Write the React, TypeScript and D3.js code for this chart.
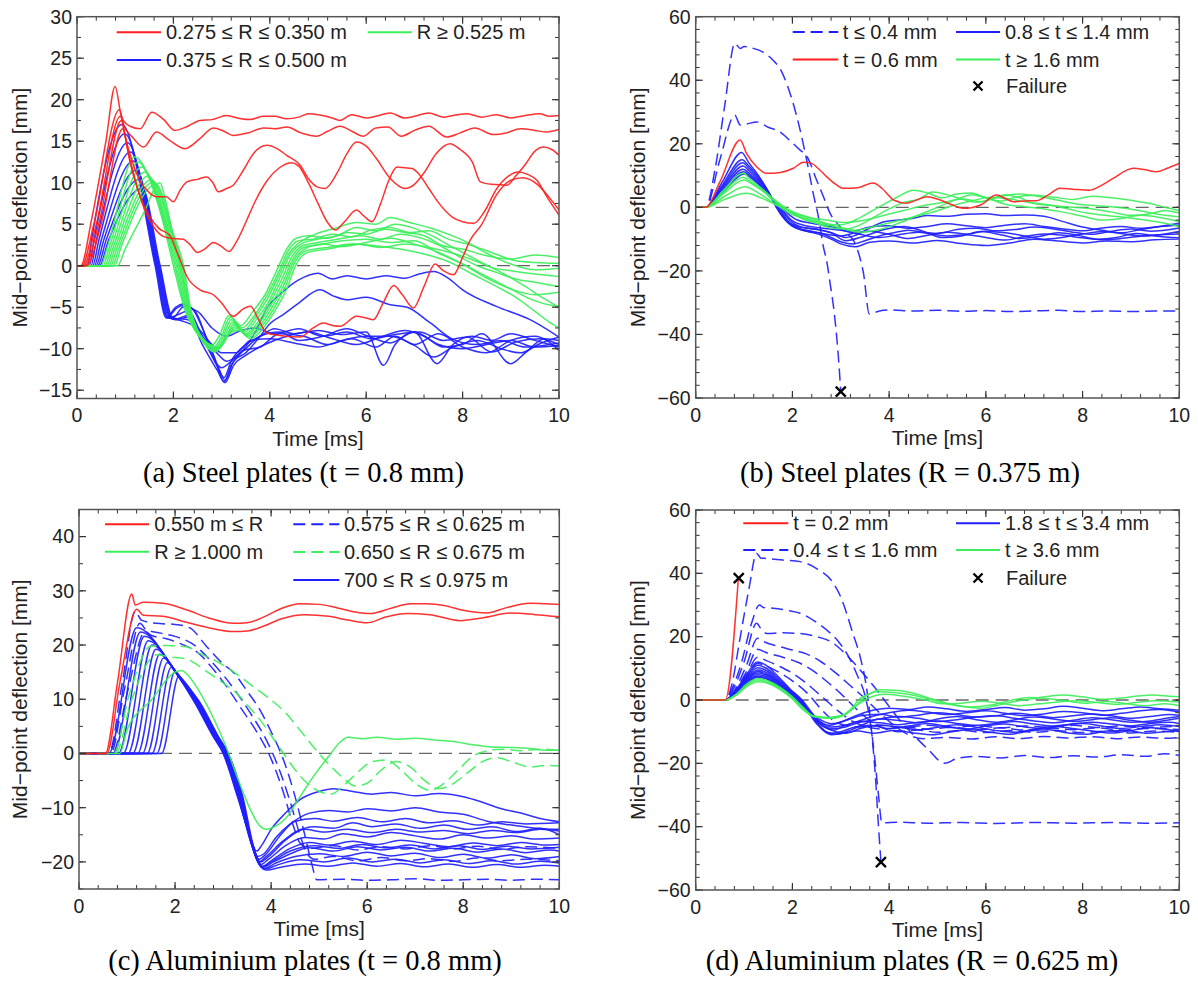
import React from 'react';
import * as d3 from 'd3';

const RED = '#ff1f1f';
const BLUE = '#2020ff';
const GREEN = '#3cef5a';
const DASH = '12,6';

// ---------- tick labels ----------
const xTicks = [0, 2, 4, 6, 8, 10];
const aYTicks = [-15, -10, -5, 0, 5, 10, 15, 20, 25, 30];
const bYTicks = [-60, -40, -20, 0, 20, 40, 60];
const cYTicks = [-20, -10, 0, 10, 20, 30, 40];
const dYTicks = [-60, -40, -20, 0, 20, 40, 60];

// ---------- panel (a): steel, t = 0.8 mm ---------- (flat t,v pairs)
const aRed: number[][] = [
  [0,0, 0.08,0, 0.3,5.5, 0.6,15, 0.79,21.6, 0.93,17.8, 1.1,16.8, 1.31,16.5, 1.55,18.5, 1.8,17.6, 2.03,16.3, 2.3,16.8, 2.55,17.5, 2.8,17.6, 3.1,18.1, 3.4,17.7, 3.6,17.6, 3.85,18.0, 4.1,18.0, 4.35,17.7, 4.6,17.9, 4.8,18.3, 5.0,18.2, 5.3,17.8, 5.45,17.5, 5.7,18.2, 6.0,17.8, 6.2,18.0, 6.5,18.4, 6.8,17.8, 7.0,18.0, 7.3,18.4, 7.6,17.9, 7.8,18.1, 8.1,18.3, 8.4,17.9, 8.7,18.2, 9.0,17.8, 9.3,18.1, 9.6,18.3, 9.8,18.0, 10,18.1],
  [0,0, 0.1,0, 0.35,5, 0.88,18.8, 0.98,16.8, 1.15,15.5, 1.38,14.3, 1.65,16.1, 1.9,15.2, 2.24,14.1, 2.55,15.3, 2.83,16.6, 3.05,16.2, 3.24,15.7, 3.55,16.0, 3.87,16.6, 4.1,16.5, 4.35,16.7, 4.65,16.0, 4.97,15.6, 5.2,16.2, 5.46,16.8, 5.7,16.2, 5.94,15.6, 6.2,16.6, 6.45,16.7, 6.73,15.6, 7.0,16.3, 7.3,16.8, 7.67,15.5, 7.95,16.0, 8.25,16.6, 8.64,15.8, 8.9,16.0, 9.2,16.5, 9.5,16.3, 9.75,16.1, 10,16.4],
  [0,0, 0.13,0, 0.4,5, 0.9,18, 1.0,15.5, 1.15,12.5, 1.3,10.3, 1.5,8.8, 1.65,8.3, 1.85,8.3, 2.0,7.7, 2.14,9.1, 2.28,10.1, 2.5,10.4, 2.69,10.7, 2.82,10, 2.93,8.9, 3.1,9.3, 3.24,9.7, 3.45,11.5, 3.66,13.5, 3.94,14.5, 4.15,14.1, 4.35,13.3, 4.63,12.1, 4.8,10.5, 4.98,9.5, 5.15,9.3, 5.4,11.2, 5.6,13.5, 5.8,14.9, 6.0,14.4, 6.2,13.0, 6.5,10.5, 6.8,9.3, 7.0,9.8, 7.2,11.2, 7.45,13.5, 7.74,14.7, 7.95,14.0, 8.2,12.5, 8.37,10.1, 8.6,9.8, 8.92,9.7, 9.1,10.8, 9.3,12.2, 9.5,13.8, 9.68,14.3, 9.85,14.0, 10,13.3],
  [0,0, 0.16,0, 0.45,5, 0.92,17.5, 1.05,14, 1.2,10.5, 1.4,6.8, 1.6,4.6, 1.8,3.5, 1.95,3.3, 2.2,3.2, 2.35,2.5, 2.5,1.6, 2.65,2.0, 2.83,2.8, 3.0,2.3, 3.15,1.7, 3.3,2.8, 3.5,5.2, 3.7,7.8, 3.95,10.3, 4.2,11.8, 4.45,12.4, 4.6,12.0, 4.8,10.0, 5.0,7.5, 5.2,5.2, 5.36,4.3, 5.55,5.3, 5.8,6.7, 5.95,6.0, 6.12,5.3, 6.3,7.5, 6.45,10, 6.64,11.9, 6.8,11.8, 6.95,11.7, 7.1,11.0, 7.3,9.3, 7.5,7.6, 7.8,5.8, 8.0,5.3, 8.23,5.1, 8.45,6.5, 8.71,9.3, 8.95,10.8, 9.15,11.3, 9.35,11.0, 9.54,10.3, 9.75,8.3, 10,6.1],
  [0,0, 0.2,0, 0.5,5, 0.95,16.5, 1.1,12.5, 1.3,8.5, 1.5,6, 1.7,4.5, 1.93,3.6, 2.05,2.0, 2.14,0.7, 2.28,-1.3, 2.55,-2.9, 2.83,-3.5, 3.0,-4.5, 3.24,-6.1, 3.45,-5.2, 3.6,-4.9, 3.75,-6.3, 3.94,-8.1, 4.21,-8.4, 4.63,-8.6, 4.9,-7.5, 5.11,-6.9, 5.3,-7.2, 5.46,-7.3, 5.8,-6.1, 6.0,-6.3, 6.15,-6.5, 6.35,-4.5, 6.57,-2.4, 6.75,-3.5, 6.98,-5.1, 7.2,-2.5, 7.43,0.2, 7.6,-0.6, 7.81,-1.1, 8.0,1.0, 8.16,3.1, 8.4,5.0, 8.7,8.5, 9.0,10.3, 9.25,10.6, 9.55,9.8, 9.8,8.2, 10,6.7],
];

const aBlue: number[][] = [
  [0,0, 0.22,0, 0.30,3, 0.93,17.0, 1.62,0, 1.85,-6.3, 2.05,-5.0, 2.2,-4.6, 2.4,-5.2, 2.6,-7.5, 2.85,-11, 3.05,-14, 3.2,-12, 3.4,-10.5, 3.7,-8, 3.95,-5, 4.2,-3.5, 4.6,-1.7, 5.0,-0.9, 5.3,-1.6, 5.6,-1.2, 6.0,-1.6, 6.4,-1.2, 6.8,-1.5, 7.1,-1.0, 7.4,-0.7, 7.7,-1.5, 8.0,-2.9, 8.7,-4.9, 9.4,-6.5, 10,-8.6],
  [0,0, 0.255,0, 0.35,3, 0.99,15.9, 1.635,0, 1.87,-6.3, 2.05,-5.2, 2.2,-4.8, 2.45,-5.5, 2.7,-9, 2.95,-12.5, 3.07,-13.8, 3.25,-11.5, 3.5,-10.5, 3.8,-8.5, 4.0,-7, 4.3,-5.8, 4.6,-4.5, 5.04,-2.9, 5.3,-3.6, 5.6,-4.1, 6.0,-3.8, 6.5,-4.7, 6.85,-5.0, 7.33,-6.9, 7.81,-8.9, 8.3,-9.5, 8.8,-9.0, 9.3,-9.8, 10,-9.3],
  [0,0, 0.29,0, 0.40,3, 1.05,14.8, 1.65,0, 1.89,-6.3, 2.05,-6.0, 2.3,-5.5, 2.6,-8.5, 2.9,-12, 3.05,-13.5, 3.2,-11.5, 3.5,-9.5, 3.8,-8.5, 4.1,-7.6, 4.5,-8.2, 5.0,-7.8, 5.5,-8.3, 6.0,-8.0, 6.36,-12, 6.6,-9.5, 7.0,-8, 7.47,-11.8, 7.8,-9.5, 8.2,-8.5, 8.6,-9.0, 9.0,-8.2, 9.5,-9.0, 10,-9.8],
  [0,0, 0.325,0, 0.45,3, 1.11,13.7, 1.665,0, 1.91,-6.3, 2.05,-6.4, 2.3,-6.0, 2.6,-9.5, 2.9,-12.5, 3.07,-14.1, 3.25,-12, 3.5,-10.8, 3.9,-9.5, 4.3,-8.6, 4.8,-8.0, 5.3,-8.8, 5.8,-9.5, 6.3,-8.6, 6.8,-7.8, 7.2,-8.5, 7.6,-9.8, 8.0,-9.5, 8.4,-8.2, 9.0,-11.8, 9.3,-10.5, 9.7,-8.8, 10,-9.0],
  [0,0, 0.36,0, 0.50,3, 1.17,12.6, 1.68,0, 1.93,-6.3, 2.05,-6.5, 2.3,-6.2, 2.7,-9.8, 3.0,-12.3, 3.2,-11.5, 3.45,-10.2, 3.8,-9.8, 4.2,-8.2, 4.7,-8.5, 5.2,-9.5, 5.7,-8.8, 6.2,-9.8, 6.6,-8.5, 7.0,-9.5, 7.5,-8.2, 8.0,-9.8, 8.5,-10.5, 9.0,-9.0, 9.5,-8.5, 10,-10.2],
  [0,0, 0.395,0, 0.55,3, 1.23,11.5, 1.695,0, 1.95,-6.3, 2.1,-6.4, 2.3,-6.5, 2.6,-8.5, 2.9,-10.5, 3.1,-11.5, 3.4,-10.5, 3.8,-8.5, 4.2,-8.0, 4.6,-9.0, 5.1,-8.5, 5.6,-7.6, 6.0,-8.4, 6.5,-9.3, 7.0,-8.0, 7.5,-9.5, 8.0,-10.0, 8.5,-9.5, 9.0,-9.0, 9.5,-9.8, 10,-9.6],
  [0,0, 0.43,0, 0.60,3, 1.29,10.4, 1.71,0, 1.97,-6.3, 2.15,-6.6, 2.5,-7.5, 2.8,-9.5, 3.0,-10.5, 3.3,-10.5, 3.6,-9, 4.0,-8.8, 4.5,-9.3, 5.0,-9.8, 5.5,-9.0, 6.0,-8.5, 6.5,-8.5, 7.0,-9.6, 7.4,-11.0, 7.8,-9.8, 8.3,-9.0, 8.8,-10.0, 9.2,-10.5, 9.6,-9.4, 10,-8.6],
  [0,0, 0.465,0, 0.65,3, 1.35,9.3, 1.725,0, 1.99,-6.3, 2.2,-5.0, 2.5,-5.5, 2.8,-7.5, 3.1,-8.5, 3.4,-7.8, 3.7,-7.5, 4.1,-8.2, 4.6,-7.6, 5.1,-8.5, 5.6,-8.0, 6.1,-8.8, 6.6,-8.3, 7.1,-8.0, 7.6,-9.0, 8.1,-8.6, 8.6,-10.4, 9.1,-9.2, 9.6,-8.8, 10,-9.5],
];

const aGreen: number[][] = [
  [0,0, 0.50,0, 0.62,2, 1.2,13.1, 1.5,10.5, 1.75,6, 2.0,0, 2.25,-5.5, 2.5,-8, 2.75,-9.8, 2.95,-8.5, 3.15,-6, 3.4,-7.2, 3.65,-5.5, 3.9,-3.5, 4.15,-0.5, 4.35,2.0, 4.55,3.3, 4.8,3.6, 5.2,3.3, 5.6,4.0, 6.0,3.8, 6.4,4.4, 6.8,4.0, 7.2,3.6, 7.6,2.4, 8.0,2.0, 8.5,1.2, 9.0,0.8, 9.5,1.3, 10,1.0],
  [0,0, 0.54,0, 0.66,2, 1.27,12.5, 1.52,10.3, 1.78,5.8, 2.03,0, 2.28,-5.8, 2.52,-8.3, 2.78,-10.1, 2.98,-8.8, 3.18,-6.2, 3.42,-7.5, 3.68,-6.0, 3.92,-3.8, 4.18,-0.8, 4.38,1.8, 4.6,3.0, 4.9,3.2, 5.3,3.8, 5.7,3.5, 6.1,4.3, 6.5,4.6, 6.9,4.0, 7.3,4.2, 7.7,3.2, 8.1,2.6, 8.6,1.6, 9.1,0.6, 9.5,0.4, 10,0.3],
  [0,0, 0.58,0, 0.70,2, 1.34,11.9, 1.55,10.2, 1.8,5.6, 2.06,0, 2.3,-6.0, 2.55,-8.6, 2.8,-10.2, 3.0,-9.0, 3.2,-6.5, 3.45,-7.8, 3.7,-6.2, 3.95,-4.0, 4.2,-1.0, 4.4,1.5, 4.62,2.8, 4.95,3.8, 5.35,4.5, 5.8,5.2, 6.2,5.0, 6.5,5.8, 6.9,5.2, 7.3,4.6, 7.7,3.8, 8.1,2.8, 8.5,1.5, 9.0,0.2, 9.5,-0.5, 10,-0.3],
  [0,0, 0.62,0, 0.74,2, 1.41,11.3, 1.58,10.0, 1.83,5.4, 2.09,0, 2.32,-6.1, 2.58,-8.8, 2.82,-10.3, 3.02,-9.2, 3.22,-6.8, 3.48,-8.0, 3.72,-6.5, 3.98,-4.3, 4.22,-1.3, 4.42,1.3, 4.65,2.6, 5.0,3.2, 5.4,3.6, 5.8,4.6, 6.2,4.2, 6.6,5.0, 7.0,4.5, 7.4,3.5, 7.8,2.2, 8.2,1.0, 8.6,-0.2, 9.0,-0.6, 9.5,-1.0, 10,-1.3],
  [0,0, 0.66,0, 0.78,2, 1.48,10.8, 1.61,9.8, 1.86,5.2, 2.12,0, 2.34,-6.2, 2.6,-9.0, 2.85,-10.4, 3.05,-9.3, 3.25,-7.0, 3.5,-8.2, 3.75,-6.8, 4.0,-4.5, 4.25,-1.6, 4.45,1.0, 4.68,2.4, 5.0,2.8, 5.4,3.2, 5.9,3.6, 6.3,3.2, 6.7,3.8, 7.1,3.4, 7.5,2.5, 7.9,1.2, 8.3,0.0, 8.7,-0.8, 9.1,-1.6, 9.5,-2.0, 10,-2.5],
  [0,0, 0.70,0, 0.82,2, 1.55,10.4, 1.65,9.6, 1.9,5.0, 2.15,0, 2.36,-6.3, 2.62,-9.0, 2.87,-10.2, 3.07,-9.0, 3.27,-7.2, 3.52,-8.3, 3.77,-7.0, 4.02,-4.8, 4.27,-2.0, 4.48,0.8, 4.7,2.2, 5.0,2.5, 5.5,3.0, 6.0,3.2, 6.5,2.8, 7.0,3.0, 7.5,1.5, 8.0,0.2, 8.5,-1.5, 9.0,-2.8, 9.5,-3.5, 10,-3.2],
  [0,0, 0.74,0, 0.86,2, 1.6,10.1, 1.7,9.2, 1.93,4.8, 2.18,0, 2.38,-6.4, 2.65,-9.1, 2.9,-10.0, 3.1,-8.6, 3.3,-7.4, 3.55,-8.4, 3.8,-7.2, 4.05,-5.0, 4.3,-2.2, 4.5,0.6, 4.72,2.0, 5.1,2.6, 5.5,2.3, 6.0,2.8, 6.5,3.3, 7.0,2.6, 7.5,1.6, 8.0,0.2, 8.5,-1.3, 9.0,-2.8, 9.4,-4.0, 9.7,-4.6, 10,-4.9],
  [0,0, 0.78,0, 0.90,2, 1.65,9.8, 1.75,8.8, 1.96,4.5, 2.21,0, 2.4,-6.5, 2.68,-9.2, 2.92,-9.8, 3.12,-8.4, 3.32,-7.6, 3.57,-8.6, 3.82,-7.4, 4.08,-5.2, 4.32,-2.5, 4.52,0.4, 4.75,1.8, 5.2,2.2, 5.7,2.6, 6.2,2.4, 6.7,2.0, 7.2,1.4, 7.7,0.5, 8.2,-1.0, 8.7,-2.5, 9.1,-3.8, 9.5,-5.5, 9.8,-6.8, 10,-7.5],
  [0,0, 0.84,0, 1.0,2, 1.38,6.3, 1.72,10.0, 1.85,7.5, 2.0,3.5, 2.2,-1.5, 2.42,-6.5, 2.7,-9.3, 2.95,-9.9, 3.15,-8.2, 3.35,-7.8, 3.6,-8.8, 3.85,-7.6, 4.1,-5.5, 4.35,-2.8, 4.55,0.2, 4.78,1.6, 5.2,2.0, 5.8,2.6, 6.3,2.2, 6.8,2.6, 7.3,2.2, 7.8,1.5, 8.3,0.5, 8.8,-0.8, 9.3,-2.5, 9.7,-4.0, 10,-5.0],
];

// ---------- panel (b): steel, R = 0.375 m ----------
const bDash: number[][] = [
  [0,0, 0.21,0, 0.4,12, 0.6,32, 0.81,51.6, 0.92,50.0, 1.0,50.6, 1.2,50.0, 1.4,48.8, 1.6,46.3, 1.75,43.5, 1.88,39, 2.0,33.5, 2.16,24.3, 2.3,14.5, 2.43,4.4, 2.55,-4, 2.64,-12.4, 2.71,-17, 2.78,-24, 2.85,-31.3, 2.95,-47, 3.0,-58],
  [0,0, 0.21,0, 0.5,15, 0.81,29, 0.92,25.9, 1.05,26.2, 1.26,26.9, 1.5,25.2, 1.74,23.8, 1.95,21.0, 2.16,18.0, 2.3,16.0, 2.5,8.6, 2.65,3.0, 2.78,-1.9, 2.95,-5.5, 3.12,-8.2, 3.26,-10.3, 3.38,-15, 3.47,-20.8, 3.59,-33.6, 3.8,-32.6, 4.02,-32.3, 4.5,-32.6, 5.0,-32.4, 5.5,-32.7, 6.0,-32.5, 6.5,-32.8, 7.0,-32.6, 7.5,-32.4, 8.0,-32.8, 8.5,-32.6, 9.0,-32.8, 9.5,-32.6, 10,-32.6],
];
const bRed: number[][] = [
  [0,0, 0.21,0, 0.5,8, 0.92,21.2, 1.05,17, 1.26,12.8, 1.47,10.7, 1.75,11.0, 2.02,12.3, 2.23,14.2, 2.37,14.0, 2.55,12, 2.71,9.6, 2.9,7.2, 3.05,6.0, 3.35,6.2, 3.67,7.7, 3.85,6, 4.02,3.3, 4.09,2.3, 4.36,1.3, 4.55,2.2, 4.78,3.3, 5.0,2.6, 5.3,0.8, 5.53,-0.3, 5.7,-0.1, 5.9,0.8, 6.22,3.9, 6.4,2.8, 6.57,1.8, 6.8,2.0, 7.05,2.1, 7.3,4.0, 7.53,6.0, 7.8,5.7, 8.15,5.4, 8.4,7, 8.63,9.1, 9.05,12.3, 9.3,11.8, 9.53,11.2, 9.75,12.3, 10,13.8],
];
const bBlue: number[][] = [
  [0,0, 0.21,0, 0.55,8, 0.95,17.3, 1.1,14, 1.3,10, 1.5,5, 1.65,0.5, 1.8,-3, 1.95,-5, 2.1,-6, 2.3,-6.5, 2.5,-6.8, 2.7,-7.5, 2.9,-8.5, 3.1,-9.5, 3.3,-8.8, 3.6,-6.5, 3.9,-4.5, 4.2,-4, 4.5,-3.4, 4.8,-2.6, 5.2,-2.8, 5.6,-2.2, 6.0,-2.0, 6.4,-2.6, 6.8,-2.4, 7.2,-2.8, 7.6,-4.5, 8.0,-6.2, 8.4,-7.2, 8.8,-8.0, 9.2,-7.0, 9.6,-6.0, 10,-5.0],
  [0,0, 0.21,0, 0.55,7, 0.96,15.0, 1.1,13, 1.3,9.5, 1.5,5, 1.68,0, 1.85,-4, 2.0,-6, 2.2,-7.2, 2.4,-7.8, 2.6,-8.2, 2.8,-9.5, 3.0,-10.8, 3.25,-11.5, 3.5,-10.5, 3.8,-9.0, 4.1,-8.0, 4.4,-7.2, 4.8,-8.2, 5.2,-9.0, 5.6,-8.6, 6.0,-9.5, 6.4,-10.3, 6.8,-9.2, 7.2,-8.4, 7.6,-8.8, 8.0,-9.6, 8.5,-10.2, 9.0,-9.4, 9.5,-8.7, 10,-8.4],
  [0,0, 0.21,0, 0.55,6.5, 0.97,14.0, 1.12,12, 1.3,9, 1.5,4.8, 1.7,0, 1.9,-4.5, 2.1,-6.5, 2.3,-7.5, 2.55,-8.5, 2.8,-10.0, 3.0,-11.5, 3.3,-12.4, 3.6,-11.0, 4.0,-10.6, 4.5,-11.2, 5.0,-10.4, 5.5,-11.4, 6.0,-12.0, 6.5,-11.2, 7.0,-10.0, 7.5,-10.6, 8.0,-11.2, 8.5,-10.6, 9.0,-10.8, 9.5,-10.2, 10,-10.0],
  [0,0, 0.21,0, 0.55,6, 0.98,13.0, 1.12,11.2, 1.3,8.5, 1.5,4.5, 1.72,0, 1.92,-4.5, 2.1,-6.5, 2.4,-7.5, 2.7,-8.5, 3.0,-9.0, 3.3,-8.0, 3.6,-7.5, 4.0,-8.5, 4.4,-9.8, 4.8,-8.8, 5.2,-7.8, 5.6,-8.4, 6.0,-7.5, 6.4,-8.0, 6.8,-9.0, 7.2,-10.0, 7.6,-9.4, 8.0,-8.4, 8.4,-7.6, 8.8,-8.2, 9.2,-9.0, 9.6,-8.6, 10,-7.6],
  [0,0, 0.21,0, 0.55,5.5, 0.98,12.0, 1.12,10.5, 1.3,8, 1.5,4.2, 1.74,0, 1.95,-4.2, 2.15,-6.0, 2.5,-7.0, 2.8,-8, 3.1,-10.5, 3.5,-9, 3.9,-7, 4.3,-6, 4.7,-7.5, 5.1,-9.5, 5.5,-9, 5.9,-7.6, 6.3,-8.6, 6.7,-9.8, 7.1,-9.2, 7.5,-8.0, 7.9,-8.8, 8.3,-10, 8.7,-9.5, 9.1,-8.2, 9.5,-9.0, 10,-9.6],
  [0,0, 0.21,0, 0.55,5, 0.99,11.2, 1.12,10, 1.3,7.6, 1.5,4, 1.76,0, 1.98,-4.0, 2.2,-5.5, 2.6,-6.5, 3.0,-7.2, 3.4,-8.5, 3.8,-9.5, 4.2,-8.6, 4.6,-7.8, 5.0,-8.2, 5.4,-7.0, 5.8,-6.6, 6.2,-7.4, 6.6,-7.0, 7.0,-6.2, 7.4,-6.8, 7.8,-7.8, 8.2,-8.5, 8.6,-7.5, 9.0,-6.8, 9.4,-7.5, 10,-6.5],
  [0,0, 0.21,0, 0.55,4.6, 1.0,10.5, 1.12,9.5, 1.3,7.2, 1.5,3.8, 1.78,0, 1.95,-2.5, 2.1,-4, 2.4,-5, 2.8,-6, 3.2,-7.6, 3.6,-6.2, 4.0,-5.8, 4.4,-6.6, 4.8,-6.0, 5.2,-5.2, 5.6,-5.8, 6.0,-6.4, 6.4,-5.6, 6.8,-5.2, 7.2,-6.0, 7.6,-6.8, 8.0,-7.4, 8.4,-6.5, 8.8,-6.0, 9.2,-6.6, 9.6,-6.0, 10,-5.6],
];
const bGreen: number[][] = [
  [0,0, 0.21,0, 0.55,5, 0.98,10.7, 1.15,8.5, 1.4,5.5, 1.65,2.0, 1.85,-0.5, 2.1,-2.5, 2.4,-4.0, 2.7,-5.2, 3.0,-5.5, 3.3,-4.0, 3.6,-1.5, 3.9,1.0, 4.2,3.5, 4.5,5.4, 4.8,4.5, 5.1,3.0, 5.4,4.2, 5.7,4.5, 6.0,3.0, 6.3,2.0, 6.6,3.2, 7.0,3.8, 7.4,3.2, 7.8,2.5, 8.2,3.5, 8.6,3.0, 9.0,2.2, 9.4,1.2, 9.7,0.0, 10,-1.0],
  [0,0, 0.21,0, 0.55,4.5, 0.98,9.5, 1.15,7.8, 1.4,5.0, 1.7,1.0, 1.95,-1.5, 2.2,-3.5, 2.5,-5.0, 2.8,-6.5, 3.1,-6.8, 3.4,-5.5, 3.7,-3.0, 4.0,-0.5, 4.3,1.5, 4.6,2.5, 4.9,4.8, 5.2,4.0, 5.5,2.6, 5.8,1.6, 6.1,2.6, 6.4,4.0, 6.7,3.0, 7.0,1.2, 7.4,0.5, 7.8,0.0, 8.2,-0.5, 8.6,-1.5, 9.0,-2.5, 9.4,-2.0, 9.7,-1.0, 10,-1.8],
  [0,0, 0.21,0, 0.55,4, 1.0,8.6, 1.2,7, 1.45,4.5, 1.75,1.0, 1.95,-1.0, 2.2,-2.5, 2.6,-4.5, 3.0,-6.5, 3.4,-7.8, 3.8,-7.0, 4.2,-5.0, 4.6,-2.5, 5.0,0, 5.4,2.5, 5.7,4.0, 6.0,3.0, 6.4,1.0, 6.8,0.2, 7.2,-0.5, 7.6,-1.5, 8.0,-2.8, 8.4,-4.0, 8.8,-3.5, 9.2,-2.5, 9.6,-3.2, 10,-4.5],
  [0,0, 0.21,0, 0.6,3.5, 1.02,6.5, 1.3,4.5, 1.6,1.5, 1.9,-1.5, 2.2,-3.5, 2.5,-5.0, 2.9,-6.0, 3.3,-7.2, 3.7,-6.0, 4.1,-4.5, 4.5,-3.0, 4.9,-1.5, 5.3,0.5, 5.7,2.0, 6.1,3.2, 6.5,2.6, 6.9,1.5, 7.3,0.8, 7.7,-0.5, 8.1,-1.8, 8.5,-2.6, 8.9,-3.2, 9.3,-4.0, 9.7,-5.0, 10,-6.0],
  [0,0, 0.21,0, 0.6,2.5, 1.05,4.4, 1.35,3.0, 1.7,0.5, 2.0,-1.5, 2.3,-3.0, 2.7,-4.0, 3.1,-4.8, 3.5,-4.0, 3.9,-2.5, 4.3,-1.0, 4.7,0.5, 5.1,1.5, 5.5,2.6, 5.9,1.8, 6.3,3.4, 6.7,4.2, 7.1,3.4, 7.5,2.2, 7.9,1.0, 8.3,0.5, 8.7,0.0, 9.1,-0.8, 9.5,-2.0, 10,-3.0],
];
const bFail: number[][] = [[3.0, -58]];

// ---------- panel (c): aluminium, t = 0.8 mm ----------
const cRed: number[][] = [
  [0,0, 0.55,0, 0.8,13, 1.1,29.4, 1.17,27.4, 1.34,27.9, 1.75,27.7, 2.24,26.5, 2.7,25, 3.21,24.0, 3.5,24.1, 3.85,25.2, 4.2,26.7, 4.6,27.6, 5.0,27.5, 5.4,26.8, 5.75,26.1, 6.06,25.8, 6.5,26.8, 6.9,27.6, 7.25,27.6, 7.6,27.3, 8.0,26.4, 8.49,25.9, 8.9,26.9, 9.39,27.7, 9.7,27.6, 10,27.5],
  [0,0, 0.58,0, 0.85,13, 1.2,26.6, 1.34,25.5, 1.75,25.3, 2.24,24.2, 2.7,23.2, 3.21,22.5, 3.5,22.6, 3.85,23.5, 4.2,24.8, 4.7,25.6, 5.2,25.3, 5.6,24.6, 5.99,24.1, 6.4,25.2, 6.83,25.8, 7.3,25.6, 7.93,24.5, 8.4,25.0, 9.0,25.9, 9.5,25.6, 10,25.2],
];
const cDashBlue: number[][] = [
  [0,0, 0.62,0, 0.9,13, 1.17,26.2, 1.3,24.6, 1.6,24.0, 2.0,23.8, 2.3,23.2, 2.66,19.7, 3.0,16.5, 3.21,15.0, 3.5,11.5, 3.77,8.0, 4.0,4.0, 4.25,-1, 4.5,-8, 4.7,-15, 4.85,-20.5, 4.95,-23.3, 5.5,-23.2, 6.0,-23.4, 6.5,-23.3, 7.0,-23.1, 7.5,-23.4, 8.0,-23.3, 8.5,-23.2, 9.0,-23.4, 9.5,-23.2, 10,-23.3],
  [0,0, 0.66,0, 0.95,12, 1.27,24.0, 1.4,22.8, 1.7,22.2, 2.0,21.6, 2.4,20.0, 2.7,17.5, 3.0,14.5, 3.3,11.0, 3.6,7.0, 3.9,2.5, 4.15,-2.5, 4.4,-9, 4.6,-15, 4.75,-18.5, 4.9,-19.5, 5.3,-19.0, 5.8,-19.8, 6.3,-19.2, 6.8,-19.8, 7.3,-19.4, 7.8,-19.9, 8.3,-19.3, 8.8,-19.8, 9.3,-19.5, 10,-19.8],
  [0,0, 0.7,0, 1.0,11, 1.38,22.5, 1.5,21.8, 1.8,21.2, 2.1,20.3, 2.5,18.4, 2.8,15.5, 3.1,12.0, 3.4,8.0, 3.7,4.0, 4.0,-1.0, 4.25,-7, 4.45,-13, 4.6,-16.5, 4.8,-17.5, 5.3,-17.0, 5.8,-17.8, 6.3,-17.2, 6.8,-17.6, 7.3,-17.0, 7.8,-17.6, 8.3,-17.1, 8.8,-17.7, 9.3,-17.2, 10,-17.5],
];
const cDashGreen: number[][] = [
  [0,0, 0.72,0, 1.05,11, 1.5,19.8, 1.8,19.9, 2.24,19.7, 2.5,18.5, 2.8,17.3, 3.21,15.1, 3.6,12.5, 3.91,10.5, 4.3,7.5, 4.6,4.3, 4.9,1.0, 5.2,-2.0, 5.5,-4.5, 5.75,-6.0, 6.0,-5.5, 6.3,-3.0, 6.6,-1.5, 6.9,-2.5, 7.2,-5.0, 7.5,-6.5, 7.8,-5.5, 8.1,-3.5, 8.4,-1.5, 8.7,-0.8, 9.0,-1.5, 9.4,-2.5, 9.7,-2.2, 10,-2.3],
  [0,0, 0.76,0, 1.1,10, 1.62,18.2, 1.9,17.8, 2.24,17.4, 2.6,15.5, 3.0,13.0, 3.21,11.7, 3.5,9.0, 3.77,6.2, 4.18,1.0, 4.5,-3.0, 4.75,-5.5, 5.0,-7.0, 5.25,-7.5, 5.5,-6.0, 5.8,-3.5, 6.1,-1.5, 6.4,-1.2, 6.7,-3.0, 7.0,-5.5, 7.3,-6.8, 7.6,-5.5, 7.9,-3.0, 8.2,-0.5, 8.5,0.5, 8.8,0.8, 9.2,0.5, 9.6,0.8, 10,0.5],
];
const cGreen: number[][] = [
  [0,0, 0.85,0, 1.0,4.3, 1.5,9.8, 2.0,15.0, 2.14,15.3, 2.25,14.6, 2.5,11.5, 2.8,6.5, 3.05,1.5, 3.3,-4.5, 3.55,-10, 3.75,-13.2, 3.9,-14.0, 4.05,-13.6, 4.3,-12.0, 4.6,-8.0, 4.9,-4.0, 5.2,-0.5, 5.45,2.2, 5.6,3.0, 5.9,2.7, 6.2,3.0, 6.6,2.6, 7.0,2.8, 7.4,2.5, 7.8,2.2, 8.2,1.6, 8.6,1.2, 9.0,1.1, 9.4,0.9, 9.7,0.6, 10,0.6],
];
const cBlue: number[][] = [
  [0,0, 0.62,0, 1.20,23.2, 2.0,15.1, 2.4,9.5, 2.8,3.0, 3.0,0, 3.3,-8, 3.55,-15, 3.7,-18, 3.8,-17, 4.0,-14, 4.3,-11, 4.6,-8.5, 5.0,-7, 5.3,-6.5, 5.7,-7.0, 6.1,-7.5, 6.5,-7.2, 7.0,-7.8, 7.5,-7.4, 8.0,-8.0, 8.4,-9.0, 8.8,-10.2, 9.2,-11.0, 9.6,-12.0, 10,-12.6],
  [0,0, 0.72,0, 1.28,22.4, 2.0,15.1, 2.41,9.5, 2.81,3.0, 3.01,0, 3.31,-8, 3.58,-16, 3.72,-19, 3.85,-18.5, 4.1,-15.5, 4.4,-13, 4.8,-11, 5.2,-10.5, 5.6,-10.8, 6.0,-10.2, 6.5,-10.6, 7.0,-10.0, 7.5,-10.8, 8.0,-11.2, 8.5,-12.5, 9.0,-13.2, 9.5,-13.8, 10,-14.0],
  [0,0, 0.82,0, 1.36,21.6, 2.01,15.1, 2.42,9.5, 2.82,3.0, 3.02,0, 3.32,-8, 3.6,-17, 3.75,-20, 3.9,-19, 4.2,-16.5, 4.5,-14.5, 4.9,-13.5, 5.3,-13.8, 5.7,-12.8, 6.1,-13.5, 6.6,-13.0, 7.1,-13.8, 7.6,-13.2, 8.1,-14.0, 8.6,-13.5, 9.1,-14.4, 9.6,-13.8, 10,-15.0],
  [0,0, 0.92,0, 1.44,20.8, 2.01,15.1, 2.43,9.5, 2.83,3.0, 3.03,0, 3.33,-8, 3.62,-17.5, 3.78,-20.5, 3.95,-19.5, 4.3,-17, 4.7,-15.5, 5.1,-15.8, 5.5,-14.8, 6.0,-15.4, 6.5,-14.6, 7.0,-15.2, 7.5,-15.8, 8.0,-15.0, 8.5,-15.6, 9.0,-15.2, 9.5,-15.8, 10,-15.6],
  [0,0, 1.02,0, 1.52,20.0, 2.02,15.0, 2.44,9.5, 2.84,3.0, 3.04,0, 3.34,-8, 3.64,-18, 3.8,-21, 4.0,-19.8, 4.4,-17.5, 4.8,-16.4, 5.2,-16.9, 5.7,-16.2, 6.2,-16.8, 6.7,-16.0, 7.2,-16.6, 7.7,-17.2, 8.2,-16.5, 8.7,-17.0, 9.2,-16.4, 9.7,-16.9, 10,-16.8],
  [0,0, 1.12,0, 1.60,19.2, 2.02,15.0, 2.45,9.5, 2.85,3.0, 3.05,0, 3.35,-8, 3.66,-18.5, 3.82,-21, 4.05,-20.0, 4.4,-18.5, 4.8,-17.4, 5.3,-18.0, 5.8,-17.2, 6.3,-17.8, 6.8,-17.3, 7.3,-18.0, 7.8,-17.5, 8.3,-18.2, 8.8,-17.6, 9.3,-18.3, 9.8,-17.8, 10,-18.0],
  [0,0, 1.22,0, 1.68,18.3, 2.03,14.9, 2.46,9.5, 2.86,3.0, 3.06,0, 3.36,-8, 3.68,-19, 3.85,-21.2, 4.1,-20.2, 4.5,-19.0, 5.0,-18.5, 5.5,-19.0, 6.0,-18.2, 6.5,-18.9, 7.0,-18.4, 7.5,-19.2, 8.0,-18.6, 8.5,-19.3, 9.0,-18.7, 9.5,-19.4, 10,-19.0],
  [0,0, 1.32,0, 1.76,17.6, 2.03,14.9, 2.47,9.5, 2.87,3.0, 3.07,0, 3.37,-8, 3.7,-19.5, 3.88,-21.3, 4.15,-20.5, 4.6,-19.6, 5.1,-20.0, 5.6,-19.3, 6.1,-20.0, 6.6,-19.5, 7.1,-20.2, 7.6,-19.6, 8.1,-20.3, 8.6,-19.8, 9.1,-20.4, 9.6,-19.9, 10,-20.2],
  [0,0, 1.42,0, 1.84,16.8, 2.04,14.8, 2.48,9.5, 2.88,3.0, 3.08,0, 3.38,-8, 3.72,-20, 3.9,-21.5, 4.2,-21.0, 4.7,-20.4, 5.2,-20.8, 5.7,-20.2, 6.2,-20.8, 6.7,-20.3, 7.2,-20.9, 7.7,-20.4, 8.2,-21.0, 8.7,-20.5, 9.2,-21.0, 9.7,-20.6, 10,-20.8],
  [0,0, 1.52,0, 1.92,15.9, 2.05,14.7, 2.49,9.5, 2.89,3.0, 3.09,0, 3.39,-8, 3.6,-16.5, 3.75,-19.5, 3.9,-18.5, 4.2,-15.0, 4.5,-12.5, 4.9,-12.0, 5.3,-12.5, 5.8,-11.8, 6.3,-12.6, 6.8,-12.0, 7.3,-12.8, 7.8,-12.4, 8.3,-13.2, 8.8,-12.6, 9.3,-13.0, 10,-12.8],
  [0,0, 1.62,0, 2.00,15.1, 2.1,14.2, 2.5,9.5, 2.9,3.0, 3.1,0, 3.4,-8, 3.62,-17, 3.78,-20, 3.95,-19.0, 4.3,-16.0, 4.7,-14.0, 5.1,-14.5, 5.6,-14.0, 6.1,-14.6, 6.6,-14.0, 7.1,-14.5, 7.6,-14.2, 8.1,-14.8, 8.6,-14.2, 9.1,-14.6, 9.6,-14.0, 10,-14.3],
  [0,0, 1.72,0, 2.08,14.3, 2.15,13.5, 2.51,9.5, 2.91,3.0, 3.11,0, 3.41,-8, 3.66,-18, 3.82,-20.8, 4.0,-20.0, 4.4,-18.0, 4.9,-17.0, 5.4,-17.5, 5.9,-16.8, 6.4,-17.4, 6.9,-16.9, 7.4,-17.6, 7.9,-17.0, 8.4,-17.7, 8.9,-17.1, 9.4,-17.6, 10,-17.3],
];

// ---------- panel (d): aluminium, R = 0.625 m ----------
const dRed: number[][] = [[0,0, 0.61,0, 0.88,38]];
const dDash: number[][] = [
  [0,0, 0.61,0, 0.75,5, 0.9,18, 1.1,35, 1.26,46.3, 1.35,44.8, 1.47,44.7, 1.8,44.2, 2.16,43.7, 2.5,41.5, 2.85,36.8, 3.0,32.5, 3.12,27.4, 3.25,21, 3.4,13.7, 3.55,2, 3.65,-12, 3.72,-25, 3.78,-40, 3.83,-51],
  [0,0, 0.61,0, 0.75,3.5, 0.95,12, 1.15,24, 1.32,30, 1.4,29.2, 1.6,29, 1.9,28.3, 2.16,27.4, 2.45,25.0, 2.71,22.1, 2.95,18.5, 3.15,14, 3.35,7.5, 3.5,1.5, 3.6,-6, 3.7,-18, 3.78,-30, 3.85,-38.8, 4.2,-38.6, 4.8,-38.9, 5.5,-38.7, 6.2,-39.0, 7.0,-38.7, 7.8,-38.9, 8.6,-38.7, 9.3,-38.9, 10,-38.8],
  [0,0, 0.61,0, 0.78,3.5, 1.0,12, 1.26,24.2, 1.35,22.5, 1.47,21, 1.8,21.2, 2.16,21.0, 2.5,20.0, 2.85,17.9, 3.1,14.5, 3.4,9.5, 3.7,4, 3.9,0, 4.2,-6, 4.5,-11, 4.8,-15.5, 5.15,-20.0, 5.4,-18.5, 5.8,-17.8, 6.3,-18.3, 6.8,-17.5, 7.3,-18.2, 7.8,-17.6, 8.3,-18.0, 8.8,-17.3, 9.3,-17.8, 9.7,-17.0, 10,-17.5],
  [0,0, 0.61,0, 0.8,3, 1.05,11, 1.28,19.5, 1.4,18.5, 1.7,17.0, 2.0,15.8, 2.3,14.5, 2.6,12.0, 2.9,8.5, 3.2,4.5, 3.5,0.5, 3.8,-4, 4.1,-8, 4.4,-11, 4.7,-12.2, 5.2,-11.8, 5.7,-12.3, 6.2,-11.6, 6.7,-12.2, 7.2,-11.5, 7.7,-12.0, 8.2,-11.6, 8.7,-12.2, 9.2,-11.7, 9.7,-12.1, 10,-11.8],
  [0,0, 0.61,0, 0.82,3, 1.05,9, 1.28,16.0, 1.45,15.0, 1.8,13.5, 2.1,12.0, 2.4,9.5, 2.7,6.0, 3.0,2.0, 3.3,-2.5, 3.6,-6.5, 3.9,-9.0, 4.2,-10.0, 4.6,-9.5, 5.0,-10.2, 5.5,-9.6, 6.0,-10.3, 6.5,-9.6, 7.0,-10.2, 7.5,-9.7, 8.0,-10.3, 8.5,-9.8, 9.0,-10.4, 9.5,-9.8, 10,-10.2],
  [0,0, 0.61,0, 0.82,3, 1.05,8, 1.28,13.5, 1.45,12.5, 1.75,10.5, 2.05,8.0, 2.35,4.5, 2.65,0.5, 2.95,-3.5, 3.25,-6.8, 3.55,-8.5, 3.9,-9.2, 4.3,-8.5, 4.8,-9.2, 5.3,-8.6, 5.8,-9.4, 6.3,-8.8, 6.8,-9.5, 7.3,-8.9, 7.8,-9.4, 8.3,-8.8, 8.8,-9.5, 9.3,-9.0, 10,-9.3],
  [0,0, 0.61,0, 0.82,2.5, 1.05,7, 1.28,11.5, 1.45,10.8, 1.75,8.5, 2.05,5.5, 2.35,1.5, 2.6,-3.0, 2.85,-6.5, 3.1,-8.0, 3.4,-8.5, 3.8,-8.0, 4.3,-8.6, 4.8,-8.0, 5.3,-8.7, 5.8,-8.1, 6.3,-8.8, 6.8,-8.2, 7.3,-8.6, 7.8,-8.0, 8.3,-8.7, 8.8,-8.2, 9.3,-8.6, 10,-8.3],
];
const dBlue: number[][] = [
  [0,0, 0.61,0, 0.8,2.5, 1.05,8, 1.28,12.0, 1.45,11.0, 1.7,7.5, 1.95,3.5, 2.2,0, 2.45,-5, 2.65,-8.5, 2.85,-9.5, 3.1,-8.0, 3.4,-6.5, 3.7,-5.0, 4.0,-4.0, 4.4,-3.2, 4.8,-3.8, 5.2,-4.6, 5.6,-4.0, 6.0,-3.4, 6.4,-4.2, 6.8,-5.0, 7.2,-4.4, 7.6,-3.6, 8.0,-4.0, 8.4,-4.8, 8.8,-4.2, 9.2,-3.4, 9.6,-3.0, 10,-3.8],
  [0,0, 0.61,0, 0.8,2.3, 1.05,7.4, 1.28,11.0, 1.45,10.1, 1.7,6.9, 1.95,3.2, 2.2,-0.3, 2.45,-6, 2.7,-10, 2.9,-10.8, 3.2,-9.5, 3.5,-7.5, 3.8,-6.0, 4.2,-6.5, 4.6,-7.2, 5.0,-6.0, 5.4,-5.2, 5.8,-6.2, 6.2,-7.0, 6.6,-6.2, 7.0,-5.4, 7.4,-6.0, 7.8,-6.8, 8.2,-6.2, 8.6,-5.6, 9.0,-6.4, 9.4,-7.0, 9.8,-6.2, 10,-5.8],
  [0,0, 0.61,0, 0.8,2.2, 1.05,6.9, 1.28,10.2, 1.45,9.4, 1.7,6.4, 1.95,2.9, 2.2,-0.6, 2.5,-7, 2.75,-10.5, 3.0,-10.0, 3.3,-8.5, 3.6,-8.0, 4.0,-9.0, 4.4,-8.2, 4.8,-7.4, 5.2,-8.4, 5.6,-9.2, 6.0,-8.2, 6.4,-7.6, 6.8,-8.5, 7.2,-9.0, 7.6,-8.0, 8.0,-7.4, 8.4,-8.2, 8.8,-9.0, 9.2,-8.4, 9.6,-7.8, 10,-8.4],
  [0,0, 0.61,0, 0.8,2.0, 1.05,6.4, 1.28,9.5, 1.45,8.8, 1.7,6.0, 1.95,2.6, 2.2,-0.9, 2.5,-7.5, 2.8,-11, 3.05,-10.5, 3.35,-9.8, 3.7,-10.5, 4.1,-9.6, 4.5,-10.4, 4.9,-11.0, 5.3,-10.0, 5.7,-9.4, 6.1,-10.2, 6.5,-10.8, 6.9,-9.8, 7.3,-9.4, 7.7,-10.4, 8.1,-10.8, 8.5,-9.8, 8.9,-9.6, 9.3,-10.5, 9.7,-10.0, 10,-9.6],
  [0,0, 0.61,0, 0.8,1.9, 1.05,6.1, 1.28,9.0, 1.45,8.3, 1.7,5.7, 1.95,2.4, 2.2,-1.0, 2.5,-6.5, 2.8,-9, 3.1,-8.5, 3.4,-7.0, 3.8,-6.0, 4.2,-5.2, 4.6,-5.8, 5.0,-6.8, 5.4,-6.2, 5.8,-5.4, 6.2,-5.0, 6.6,-5.8, 7.0,-6.6, 7.4,-7.2, 7.8,-6.4, 8.2,-5.6, 8.6,-6.2, 9.0,-7.0, 9.4,-6.6, 9.8,-5.6, 10,-5.2],
  [0,0, 0.61,0, 0.8,1.8, 1.05,5.8, 1.28,8.5, 1.45,7.9, 1.7,5.4, 1.95,2.2, 2.2,-1.2, 2.5,-6, 2.75,-8, 3.0,-7.0, 3.3,-5.0, 3.6,-3.5, 4.0,-2.6, 4.4,-3.0, 4.8,-2.2, 5.2,-2.8, 5.6,-3.6, 6.0,-3.0, 6.4,-2.4, 6.8,-3.2, 7.2,-2.8, 7.6,-2.0, 8.0,-2.6, 8.4,-3.4, 8.8,-2.8, 9.2,-2.2, 9.6,-2.8, 10,-3.2],
  [0,0, 0.61,0, 0.8,1.7, 1.05,5.4, 1.28,8.0, 1.45,7.4, 1.7,5.0, 1.95,2.0, 2.2,-1.4, 2.5,-6.5, 2.8,-9.5, 3.1,-10.5, 3.4,-9.0, 3.8,-8.0, 4.2,-8.6, 4.6,-9.4, 5.0,-8.6, 5.4,-7.8, 5.8,-8.6, 6.2,-9.6, 6.6,-10.2, 7.0,-9.2, 7.4,-8.4, 7.8,-9.0, 8.2,-9.8, 8.6,-10.4, 9.0,-9.6, 9.4,-8.8, 9.8,-9.4, 10,-10.0],
  [0,0, 0.61,0, 0.8,1.6, 1.05,5.1, 1.28,7.5, 1.45,7.0, 1.7,4.7, 1.95,1.8, 2.2,-1.6, 2.5,-5.5, 2.8,-7.5, 3.1,-6.5, 3.4,-5.0, 3.8,-4.5, 4.2,-5.4, 4.6,-4.8, 5.0,-4.0, 5.4,-4.6, 5.8,-5.4, 6.2,-5.0, 6.6,-4.2, 7.0,-4.8, 7.4,-5.6, 7.8,-5.0, 8.2,-4.4, 8.6,-5.0, 9.0,-5.8, 9.4,-5.2, 9.8,-4.6, 10,-4.8],
  [0,0, 0.61,0, 0.8,1.5, 1.05,4.9, 1.28,7.2, 1.45,6.7, 1.7,4.5, 1.95,1.6, 2.2,-1.8, 2.5,-6, 2.8,-8.5, 3.1,-8.0, 3.4,-6.8, 3.8,-7.2, 4.2,-7.8, 4.6,-7.0, 5.0,-6.6, 5.4,-7.4, 5.8,-8.0, 6.2,-7.4, 6.6,-6.8, 7.0,-7.6, 7.4,-8.2, 7.8,-7.6, 8.2,-7.0, 8.6,-7.6, 9.0,-8.2, 9.4,-7.4, 9.8,-7.0, 10,-7.4],
];
const dGreen: number[][] = [
  [0,0, 0.61,0, 0.85,2, 1.05,5, 1.28,6.8, 1.5,6.0, 1.75,4.0, 2.0,1.0, 2.2,-2.0, 2.43,-5.0, 2.7,-5.5, 3.0,-5.0, 3.2,-3.0, 3.4,0.5, 3.6,2.0, 3.81,3.2, 4.2,3.0, 4.5,2.1, 4.85,0.5, 5.19,-1.0, 5.5,-2.0, 5.88,-2.6, 6.2,-1.8, 6.6,-0.5, 7.0,0.5, 7.3,1.2, 7.6,1.6, 8.0,1.0, 8.4,0.2, 8.8,0.6, 9.1,1.2, 9.46,1.6, 9.8,1.2, 10,1.0],
  [0,0, 0.61,0, 0.85,1.8, 1.05,4.6, 1.28,6.3, 1.5,5.6, 1.75,3.6, 2.0,0.6, 2.2,-2.4, 2.45,-5.2, 2.75,-5.6, 3.05,-4.8, 3.3,-2.0, 3.5,1.0, 3.75,2.6, 4.1,2.4, 4.5,1.5, 4.9,0.0, 5.3,-1.5, 5.7,-2.2, 6.1,-1.6, 6.5,-0.2, 6.9,0.8, 7.3,0.4, 7.7,-0.4, 8.1,-1.0, 8.5,-0.5, 8.9,-1.2, 9.3,-1.8, 9.7,-1.2, 10,-1.8],
  [0,0, 0.61,0, 0.85,1.6, 1.05,4.2, 1.28,5.8, 1.5,5.2, 1.75,3.2, 2.0,0.3, 2.2,-2.8, 2.47,-5.4, 2.8,-5.8, 3.1,-4.5, 3.35,-1.5, 3.6,0.8, 3.9,1.8, 4.3,1.2, 4.7,0.2, 5.1,-1.2, 5.5,-1.0, 5.9,-0.4, 6.3,-1.0, 6.7,-1.8, 7.1,-1.2, 7.5,-0.6, 7.9,-0.2, 8.3,-0.8, 8.7,-1.4, 9.1,-0.8, 9.5,-0.2, 10,-0.6],
];
const dFail: number[][] = [[0.89, 38.5], [3.83, -51.2]];

// ---------- types ----------
type Layer = { curves: number[][]; color: string; dash?: string };
type LegendItem = { kind: 'line' | 'cross'; color: string; dash?: string; label: string; x1: number; x2: number; tx: number; y: number };
type Spec = {
  id: string; left: number; right: number; top: number; bottom: number;
  yDomain: [number, number]; yTicks: number[]; yMinorStart: number; yMinorStep: number;
  layers: Layer[]; fails: number[][]; legend: LegendItem[];
  caption: string; capX: number; capY: number; yTitleX: number;
};

const SANS = 'Liberation Sans, Arial, Helvetica, sans-serif';
const SERIF = 'Liberation Serif, Times New Roman, serif';

function pts(c: number[]): [number, number][] {
  const out: [number, number][] = [];
  for (let i = 0; i + 1 < c.length; i += 2) out.push([c[i], c[i + 1]]);
  return out;
}
function fmt(v: number) { return v < 0 ? '\u2212' + Math.abs(v) : String(v); }

function Cross({ cx, cy, s = 5 }: { cx: number; cy: number; s?: number }) {
  return <path d={`M${cx - s},${cy - s}L${cx + s},${cy + s}M${cx - s},${cy + s}L${cx + s},${cy - s}`} stroke="#000" strokeWidth={2.3} fill="none" />;
}

function Panel({ s }: { s: Spec }) {
  const x = d3.scaleLinear().domain([0, 10]).range([s.left, s.right]);
  const y = d3.scaleLinear().domain(s.yDomain).range([s.bottom, s.top]);
  const line = d3.line<[number, number]>().x(d => x(d[0])).y(d => y(d[1])).curve(d3.curveMonotoneX);
  const xMinor = d3.range(0, 10.0001, 0.4);
  const yMinor = d3.range(s.yMinorStart, s.yDomain[1] + 1e-6, s.yMinorStep);
  const clip = 'clip-' + s.id;
  const axisCol = '#555';
  const tickCol = '#333';
  const midX = (s.left + s.right) / 2;
  const midY = (s.top + s.bottom) / 2;
  return (
    <g>
      <defs>
        <clipPath id={clip}><rect x={s.left} y={s.top} width={s.right - s.left} height={s.bottom - s.top} /></clipPath>
      </defs>
      <rect x={s.left} y={s.top} width={s.right - s.left} height={s.bottom - s.top} fill="#fff" />
      <line x1={s.left} x2={s.right} y1={y(0)} y2={y(0)} stroke="#666" strokeWidth={1.3} strokeDasharray="13,7" />
      <g clipPath={`url(#${clip})`}>
        {s.layers.map((L, li) => L.curves.map((c, ci) => (
          <path key={li + '-' + ci} d={line(pts(c)) || ''} fill="none" stroke={L.color} strokeWidth={1.5}
            strokeOpacity={0.92} strokeDasharray={L.dash} strokeLinejoin="round" />
        )))}
      </g>
      {s.fails.map((f, i) => <Cross key={i} cx={x(f[0])} cy={y(f[1])} />)}
      {xMinor.map((t, i) => (
        <g key={'xm' + i} stroke={tickCol} strokeWidth={1}>
          <line x1={x(t)} x2={x(t)} y1={s.bottom} y2={s.bottom - 4} />
          <line x1={x(t)} x2={x(t)} y1={s.top} y2={s.top + 4} />
        </g>
      ))}
      {xTicks.map((t, i) => (
        <g key={'xM' + i}>
          <line x1={x(t)} x2={x(t)} y1={s.bottom} y2={s.bottom - 7} stroke={tickCol} strokeWidth={1.2} />
          <line x1={x(t)} x2={x(t)} y1={s.top} y2={s.top + 7} stroke={tickCol} strokeWidth={1.2} />
          <text x={x(t)} y={s.bottom + 17} dy="0.35em" textAnchor="middle" fontSize={19.5} fontFamily={SANS} fill="#222">{fmt(t)}</text>
        </g>
      ))}
      {yMinor.map((v, i) => (
        <g key={'ym' + i} stroke={tickCol} strokeWidth={1}>
          <line x1={s.left} x2={s.left + 4} y1={y(v)} y2={y(v)} />
          <line x1={s.right} x2={s.right - 4} y1={y(v)} y2={y(v)} />
        </g>
      ))}
      {s.yTicks.map((v, i) => (
        <g key={'yM' + i}>
          <line x1={s.left} x2={s.left + 7} y1={y(v)} y2={y(v)} stroke={tickCol} strokeWidth={1.2} />
          <line x1={s.right} x2={s.right - 7} y1={y(v)} y2={y(v)} stroke={tickCol} strokeWidth={1.2} />
          <text x={s.left - 5} y={y(v)} dy="0.35em" textAnchor="end" fontSize={19.5} fontFamily={SANS} fill="#222">{fmt(v)}</text>
        </g>
      ))}
      <rect x={s.left} y={s.top} width={s.right - s.left} height={s.bottom - s.top} fill="none" stroke={axisCol} strokeWidth={1.5} />
      {s.legend.map((it, i) => (
        <g key={'lg' + i}>
          {it.kind === 'line'
            ? <line x1={it.x1} x2={it.x2} y1={it.y} y2={it.y} stroke={it.color} strokeWidth={2} strokeDasharray={it.dash} />
            : <Cross cx={(it.x1 + it.x2) / 2} cy={it.y} s={4.5} />}
          <text x={it.tx} y={it.y} dy="0.35em" fontSize={20} fontFamily={SANS} fill="#222">{it.label}</text>
        </g>
      ))}
      <text x={midX} y={s.bottom + 40} dy="0.35em" textAnchor="middle" fontSize={21} fontFamily={SANS} fill="#222">Time [ms]</text>
      <text transform={`translate(${s.yTitleX},${midY}) rotate(-90)`} dy="0.35em" textAnchor="middle" fontSize={21} fontFamily={SANS} fill="#222">{'Mid\u2212point deflection [mm]'}</text>
      <text x={s.capX} y={s.capY} dy="0.35em" textAnchor="middle" fontSize={28.5} fontFamily={SERIF} fill="#000">{s.caption}</text>
    </g>
  );
}

const specs: Spec[] = [
  {
    id: 'a', left: 77, right: 559, top: 16.7, bottom: 398.5, yDomain: [-16, 30], yTicks: aYTicks, yMinorStart: -15, yMinorStep: 2.5,
    layers: [{ curves: aBlue, color: BLUE }, { curves: aGreen, color: GREEN }, { curves: aRed, color: RED }],
    fails: [],
    legend: [
      { kind: 'line', color: RED, label: '0.275 \u2264 R \u2264 0.350 m', x1: 116.7, x2: 161, tx: 166, y: 32.3 },
      { kind: 'line', color: GREEN, label: 'R \u2265 0.525 m', x1: 367.7, x2: 411.7, tx: 416.7, y: 32.3 },
      { kind: 'line', color: BLUE, label: '0.375 \u2264 R \u2264 0.500 m', x1: 116.7, x2: 161, tx: 166, y: 60 },
    ],
    caption: '(a) Steel plates (t = 0.8 mm)', capX: 303.5, capY: 472, yTitleX: 20,
  },
  {
    id: 'b', left: 695.7, right: 1179.3, top: 16.7, bottom: 398, yDomain: [-60, 60], yTicks: bYTicks, yMinorStart: -60, yMinorStep: 4,
    layers: [{ curves: bDash, color: BLUE, dash: DASH }, { curves: bBlue, color: BLUE }, { curves: bGreen, color: GREEN }, { curves: bRed, color: RED }],
    fails: bFail,
    legend: [
      { kind: 'line', color: BLUE, dash: DASH, label: 't \u2264 0.4 mm', x1: 792.7, x2: 838.3, tx: 842.7, y: 32 },
      { kind: 'line', color: RED, label: 't = 0.6 mm', x1: 792.7, x2: 838.3, tx: 842.7, y: 59.5 },
      { kind: 'line', color: BLUE, label: '0.8 \u2264 t \u2264 1.4 mm', x1: 956, x2: 1000, tx: 1005, y: 32 },
      { kind: 'line', color: GREEN, label: 't \u2265 1.6 mm', x1: 956, x2: 1000, tx: 1005, y: 59.5 },
      { kind: 'cross', color: '#000', label: 'Failure', x1: 973, x2: 983, tx: 1006, y: 86 },
    ],
    caption: '(b) Steel plates (R = 0.375 m)', capX: 910, capY: 472, yTitleX: 638,
  },
  {
    id: 'c', left: 79, right: 559.3, top: 509.5, bottom: 889, yDomain: [-25, 45], yTicks: cYTicks, yMinorStart: -25, yMinorStep: 5,
    layers: [{ curves: cBlue, color: BLUE }, { curves: cDashBlue, color: BLUE, dash: DASH }, { curves: cDashGreen, color: GREEN, dash: DASH }, { curves: cGreen, color: GREEN }, { curves: cRed, color: RED }],
    fails: [],
    legend: [
      { kind: 'line', color: RED, label: '0.550 m \u2264 R', x1: 105, x2: 149, tx: 154.3, y: 524.3 },
      { kind: 'line', color: GREEN, label: 'R \u2265 1.000 m', x1: 105, x2: 149, tx: 154.3, y: 551.7 },
      { kind: 'line', color: BLUE, dash: DASH, label: '0.575 \u2264 R \u2264 0.625 m', x1: 293.3, x2: 339.3, tx: 344, y: 524.3 },
      { kind: 'line', color: GREEN, dash: DASH, label: '0.650 \u2264 R \u2264 0.675 m', x1: 293.3, x2: 339.3, tx: 344, y: 552 },
      { kind: 'line', color: BLUE, label: '700 \u2264 R \u2264 0.975 m', x1: 293.3, x2: 339.3, tx: 344, y: 580 },
    ],
    caption: '(c) Aluminium plates (t = 0.8 mm)', capX: 305, capY: 960, yTitleX: 20,
  },
  {
    id: 'd', left: 695.7, right: 1179.3, top: 510, bottom: 890, yDomain: [-60, 60], yTicks: dYTicks, yMinorStart: -60, yMinorStep: 4,
    layers: [{ curves: dBlue, color: BLUE }, { curves: dDash, color: BLUE, dash: DASH }, { curves: dGreen, color: GREEN }, { curves: dRed, color: RED }],
    fails: dFail,
    legend: [
      { kind: 'line', color: RED, label: 't = 0.2 mm', x1: 743.3, x2: 788.3, tx: 793.3, y: 523.3 },
      { kind: 'line', color: BLUE, dash: DASH, label: '0.4 \u2264 t \u2264 1.6 mm', x1: 743.3, x2: 788.3, tx: 793.3, y: 550 },
      { kind: 'line', color: BLUE, label: '1.8 \u2264 t \u2264 3.4 mm', x1: 956, x2: 1000, tx: 1005, y: 523.3 },
      { kind: 'line', color: GREEN, label: 't \u2265 3.6 mm', x1: 956, x2: 1000, tx: 1005, y: 550 },
      { kind: 'cross', color: '#000', label: 'Failure', x1: 973, x2: 983, tx: 1006, y: 578 },
    ],
    caption: '(d) Aluminium plates (R = 0.625 m)', capX: 912, capY: 960, yTitleX: 638,
  },
];

export default function App() {
  return (
    <svg width={1198} height={985} viewBox="0 0 1198 985" style={{ display: 'block', position: 'absolute', left: 0, top: 0, background: '#fff' }}>
      <rect x={0} y={0} width={1198} height={985} fill="#fff" />
      {specs.map(s => <Panel key={s.id} s={s} />)}
    </svg>
  );
}
